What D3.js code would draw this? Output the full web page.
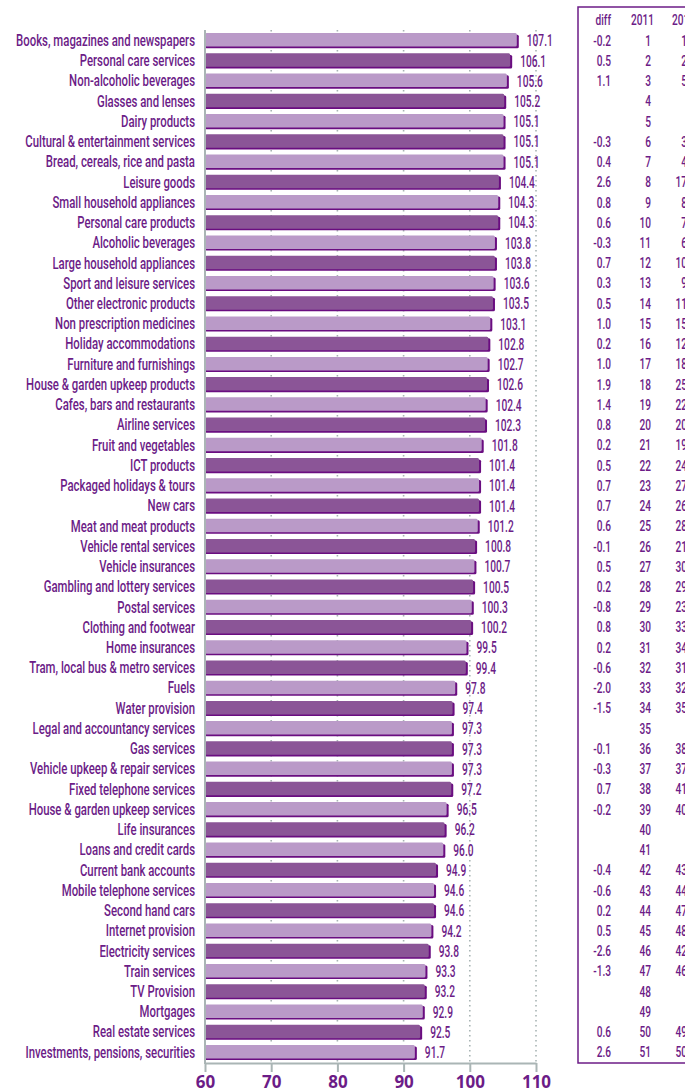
<!DOCTYPE html>
<html lang="en">
<head>
  <meta charset="UTF-8">
  <title>Consumer markets ranking</title>
  <style>
    body {
      margin: 0;
      background: #ffffff;
    }
    svg text {
      font-family: Roboto, 'Liberation Sans', sans-serif;
      font-weight: 500;
      fill: #6c1c87;
    }
    .axis-label {
      font-family: 'Open Sans', 'DejaVu Sans', sans-serif !important;
      font-weight: 700 !important;
      font-size: 17px;
    }
  </style>
</head>
<body>
  <div id="chart"></div>

  <script src="https://cdnjs.cloudflare.com/ajax/libs/d3/7.8.5/d3.min.js"></script>
  <script>
    // Market names, top to bottom
    const categories = [
      'Books, magazines and newspapers', 'Personal care services', 'Non-alcoholic beverages',
      'Glasses and lenses', 'Dairy products', 'Cultural & entertainment services',
      'Bread, cereals, rice and pasta', 'Leisure goods', 'Small household appliances',
      'Personal care products', 'Alcoholic beverages', 'Large household appliances',
      'Sport and leisure services', 'Other electronic products', 'Non prescription medicines',
      'Holiday accommodations', 'Furniture and furnishings', 'House & garden upkeep products',
      'Cafes, bars and restaurants', 'Airline services', 'Fruit and vegetables',
      'ICT products', 'Packaged holidays & tours', 'New cars', 'Meat and meat products',
      'Vehicle rental services', 'Vehicle insurances', 'Gambling and lottery services',
      'Postal services', 'Clothing and footwear', 'Home insurances',
      'Tram, local bus & metro services', 'Fuels', 'Water provision',
      'Legal and accountancy services', 'Gas services', 'Vehicle upkeep & repair services',
      'Fixed telephone services', 'House & garden upkeep services', 'Life insurances',
      'Loans and credit cards', 'Current bank accounts', 'Mobile telephone services',
      'Second hand cars', 'Internet provision', 'Electricity services', 'Train services',
      'TV Provision', 'Mortgages', 'Real estate services', 'Investments, pensions, securities'
    ];

    // Index values (bars)
    const values = [
      107.1, 106.1, 105.6, 105.2, 105.1, 105.1, 105.1, 104.4, 104.3, 104.3,
      103.8, 103.8, 103.6, 103.5, 103.1, 102.8, 102.7, 102.6, 102.4, 102.3,
      101.8, 101.4, 101.4, 101.4, 101.2, 100.8, 100.7, 100.5, 100.3, 100.2,
      99.5, 99.4, 97.8, 97.4, 97.3, 97.3, 97.3, 97.2, 96.5, 96.2,
      96.0, 94.9, 94.6, 94.6, 94.2, 93.8, 93.3, 93.2, 92.9, 92.5, 91.7
    ];

    // Table columns (null = empty cell)
    const diffs = [
      -0.2, 0.5, 1.1, null, null, -0.3, 0.4, 2.6, 0.8, 0.6,
      -0.3, 0.7, 0.3, 0.5, 1.0, 0.2, 1.0, 1.9, 1.4, 0.8,
      0.2, 0.5, 0.7, 0.7, 0.6, -0.1, 0.5, 0.2, -0.8, 0.8,
      0.2, -0.6, -2.0, -1.5, null, -0.1, -0.3, 0.7, -0.2, null,
      null, -0.4, -0.6, 0.2, 0.5, -2.6, -1.3, null, null, 0.6, 2.6
    ];
    const rank2011 = [
      1, 2, 3, 4, 5, 6, 7, 8, 9, 10, 11, 12, 13, 14, 15, 16, 17, 18, 19, 20,
      21, 22, 23, 24, 25, 26, 27, 28, 29, 30, 31, 32, 33, 34, 35, 36, 37, 38, 39, 40,
      41, 42, 43, 44, 45, 46, 47, 48, 49, 50, 51
    ];
    const rank2010 = [
      1, 2, 5, null, null, 3, 4, 17, 8, 7, 6, 10, 9, 11, 15, 12, 18, 25, 22, 20,
      19, 24, 27, 26, 28, 21, 30, 29, 23, 33, 34, 31, 32, 35, null, 38, 37, 41, 40, null,
      null, 43, 44, 47, 48, 42, 46, null, null, 49, 50
    ];
    const columnHeaders = ['diff', '2011', '2010'];
    const xTicks = [60, 70, 80, 90, 100, 110];

    const width = 685;
    const height = 1092;

    const svg = d3.select('#chart').append('svg')
      .attr('width', width)
      .attr('height', height);

    const x = d3.scaleLinear().domain([60, 110]).range([205, 536]);
    const y = d3.scaleBand().domain(categories).range([30, 1062]).padding(0);
    const cy = name => y(name) + y.bandwidth() / 2;

    const rows = categories.map((c, i) => ({
      name: c, value: values[i], diff: diffs[i], r11: rank2011[i], r10: rank2010[i], i: i
    }));

    // measure a string so the narrow look of the original can be matched by squeezing
    function squeeze(sample, size, target) {
      const t = svg.append('text').style('font-size', size + 'px').text(sample);
      const w = t.node().getComputedTextLength();
      t.remove();
      return target / w;
    }

    // dotted gridlines
    svg.selectAll('.grid')
      .data(xTicks.slice(1))
      .enter().append('line')
      .attr('x1', d => x(d)).attr('x2', d => x(d))
      .attr('y1', 30).attr('y2', 1063)
      .attr('stroke', '#a8b4b4')
      .attr('stroke-width', 1.6)
      .attr('stroke-dasharray', '1.6,3.4');

    // bar shadows
    const barH = 13.5;
    svg.selectAll('.shadow')
      .data(rows)
      .enter().append('rect')
      .attr('x', x(60))
      .attr('y', d => cy(d.name) - 7 + 1.6)
      .attr('width', d => x(d.value) - x(60) + 2)
      .attr('height', barH)
      .attr('rx', 1.5)
      .attr('fill', '#6a0d80');

    // bars
    svg.selectAll('.bar')
      .data(rows)
      .enter().append('rect')
      .attr('x', x(60))
      .attr('y', d => cy(d.name) - 7)
      .attr('width', d => x(d.value) - x(60))
      .attr('height', barH)
      .attr('rx', 1.5)
      .attr('fill', d => d.i % 2 === 0 ? '#ba9ac8' : '#8b5597');

    // left axis line
    svg.append('line')
      .attr('x1', x(60)).attr('x2', x(60))
      .attr('y1', 30).attr('y2', 1064)
      .attr('stroke', '#aab5b5')
      .attr('stroke-width', 2);

    // bottom axis
    const xAxis = svg.append('g')
      .attr('transform', 'translate(0,1063)')
      .call(d3.axisBottom(x).tickValues(xTicks).tickSize(9).tickSizeOuter(0).tickPadding(4));
    xAxis.select('.domain').attr('stroke', '#aab5b5').attr('stroke-width', 2);
    xAxis.selectAll('.tick line').attr('stroke', '#aab5b5').attr('stroke-width', 2);
    xAxis.selectAll('.tick text')
      .attr('class', 'axis-label')
      .attr('fill', '#6c1c87');

    // category labels
    const sxCat = squeeze('Books, magazines and newspapers', 16, 179);
    svg.selectAll('.cat')
      .data(rows)
      .enter().append('text')
      .attr('transform', d => `translate(195,${cy(d.name) + 5.8}) scale(${sxCat},1)`)
      .attr('text-anchor', 'end')
      .style('font-size', '16px')
      .text(d => d.name);

    // value labels
    const sxVal = squeeze('107.1', 17, 26);
    svg.selectAll('.val')
      .data(rows)
      .enter().append('text')
      .attr('transform', d => `translate(${x(d.value) + 10},${cy(d.name) + 6.2}) scale(${sxVal},1)`)
      .style('font-size', '17px')
      .text(d => d.value.toFixed(1));

    // table box
    svg.append('rect')
      .attr('x', 578).attr('y', 7)
      .attr('width', 140).attr('height', 1056)
      .attr('fill', 'none')
      .attr('stroke', '#6c1c87')
      .attr('stroke-width', 1.5);

    const sxTab = squeeze('2011', 15, 23);
    const colX = [611, 651, 687];
    const headX = [611, 654, 695];
    svg.selectAll('.head')
      .data(columnHeaders)
      .enter().append('text')
      .attr('transform', (d, i) => `translate(${headX[i]},25) scale(${sxTab},1)`)
      .attr('text-anchor', 'end')
      .style('font-size', '15px')
      .text(d => d);

    const fields = ['diff', 'r11', 'r10'];
    fields.forEach((f, ci) => {
      svg.selectAll('.cell-' + f)
        .data(rows.filter(d => d[f] !== null))
        .enter().append('text')
        .attr('transform', d => `translate(${colX[ci]},${cy(d.name) + 5.5}) scale(${sxTab},1)`)
        .attr('text-anchor', 'end')
        .style('font-size', '15px')
        .text(d => f === 'diff' ? d[f].toFixed(1) : d[f]);
    });
  </script>
</body>
</html>
